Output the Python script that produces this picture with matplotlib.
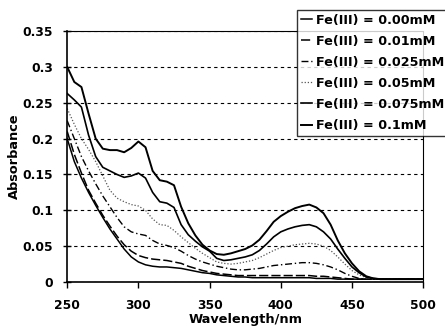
import numpy as np
import matplotlib
matplotlib.use("Agg")
import matplotlib.pyplot as plt

plt.rcParams['font.family'] = ['DejaVu Sans']
plt.rcParams['font.weight'] = 'bold'

# wavelength grid, 250..500 nm in 5 nm steps
wl = np.arange(250, 501, 5)

labels = ['Fe(III) = 0.00mM', 'Fe(III) = 0.01mM', 'Fe(III) = 0.025mM',
          'Fe(III) = 0.05mM', 'Fe(III) = 0.075mM', 'Fe(III) = 0.1mM']

fe_000 = [0.200, 0.168, 0.145, 0.125, 0.107, 0.090, 0.074, 0.060, 0.046, 0.035,
          0.028, 0.024, 0.022, 0.021, 0.021, 0.020, 0.019, 0.017, 0.015, 0.013,
          0.012, 0.010, 0.009, 0.008, 0.007, 0.007, 0.006, 0.006, 0.006, 0.006,
          0.006, 0.006, 0.006, 0.006, 0.006, 0.005, 0.005, 0.005, 0.004, 0.004,
          0.004, 0.004, 0.004, 0.004, 0.004, 0.004, 0.004, 0.004, 0.004, 0.004,
          0.004]
fe_001 = [0.210, 0.178, 0.152, 0.128, 0.110, 0.093, 0.078, 0.064, 0.052, 0.043,
          0.037, 0.034, 0.032, 0.031, 0.030, 0.028, 0.026, 0.022, 0.019, 0.016,
          0.014, 0.012, 0.011, 0.010, 0.009, 0.009, 0.009, 0.009, 0.009, 0.009,
          0.009, 0.009, 0.009, 0.009, 0.009, 0.008, 0.008, 0.007, 0.006, 0.005,
          0.004, 0.004, 0.004, 0.004, 0.004, 0.004, 0.004, 0.004, 0.004, 0.004,
          0.004]
fe_0025 = [0.225, 0.200, 0.175, 0.155, 0.137, 0.120, 0.105, 0.090, 0.077, 0.070,
           0.067, 0.065, 0.058, 0.053, 0.051, 0.048, 0.043, 0.037, 0.032, 0.028,
           0.025, 0.022, 0.020, 0.018, 0.017, 0.017, 0.018, 0.019, 0.021, 0.023,
           0.024, 0.025, 0.026, 0.027, 0.027, 0.026, 0.024, 0.021, 0.017, 0.012,
           0.008, 0.005, 0.004, 0.004, 0.004, 0.004, 0.004, 0.004, 0.004, 0.004,
           0.004]
fe_005 = [0.242, 0.220, 0.200, 0.185, 0.168, 0.148, 0.128, 0.117, 0.112, 0.108,
          0.106, 0.100, 0.088, 0.080, 0.079, 0.072, 0.063, 0.055, 0.047, 0.040,
          0.034, 0.028, 0.026, 0.025, 0.026, 0.028, 0.030, 0.034, 0.039, 0.044,
          0.048, 0.050, 0.052, 0.053, 0.054, 0.053, 0.050, 0.044, 0.035, 0.025,
          0.016, 0.010, 0.006, 0.004, 0.004, 0.004, 0.004, 0.004, 0.004, 0.004,
          0.004]
fe_0075 = [0.263, 0.254, 0.244, 0.205, 0.175, 0.160, 0.155, 0.150, 0.146, 0.148,
           0.152, 0.145, 0.125, 0.112, 0.110, 0.104, 0.080, 0.066, 0.057, 0.049,
           0.043, 0.033, 0.030, 0.031, 0.033, 0.035, 0.038, 0.044, 0.053, 0.063,
           0.070, 0.074, 0.077, 0.079, 0.080, 0.077, 0.070, 0.060, 0.046, 0.033,
           0.021, 0.013, 0.007, 0.005, 0.004, 0.004, 0.004, 0.004, 0.004, 0.004,
           0.004]
fe_01 = [0.300, 0.279, 0.272, 0.235, 0.200, 0.186, 0.184, 0.184, 0.181, 0.187,
         0.196, 0.188, 0.155, 0.142, 0.140, 0.135, 0.105, 0.082, 0.065, 0.052,
         0.044, 0.039, 0.038, 0.040, 0.043, 0.046, 0.051, 0.059, 0.071, 0.084,
         0.092, 0.098, 0.103, 0.106, 0.108, 0.104, 0.096, 0.080, 0.058, 0.040,
         0.026, 0.015, 0.008, 0.005, 0.004, 0.004, 0.004, 0.004, 0.004, 0.004,
         0.004]

series = [fe_000, fe_001, fe_0025, fe_005, fe_0075, fe_01]
styles = [dict(ls='-', lw=1.1, color='black'),
          dict(ls=(0, (6, 2)), lw=1.1, color='black'),
          dict(ls=(0, (5, 2, 1, 2)), lw=1.0, color='black'),
          dict(ls=(0, (1, 1.5)), lw=0.9, color='#555555'),
          dict(ls='-', lw=1.2, color='black'),
          dict(ls='-', lw=1.4, color='black')]

fig = plt.figure(figsize=(4.45, 3.31), dpi=100)
ax = fig.add_axes([0.151, 0.148, 0.800, 0.758])

for ys, lab, st in zip(series, labels, styles):
    ax.plot(wl, ys, label=lab, **st)

ax.set_xlim(250, 500)
ax.set_ylim(0, 0.35)
ax.set_xticks([250, 300, 350, 400, 450, 500])
ax.set_yticks(np.arange(0, 0.351, 0.05))
ax.yaxis.set_major_formatter(plt.FuncFormatter(
    lambda v, p: ('%.2f' % v).rstrip('0').rstrip('.') if v else '0'))

# dashed horizontal grid
ax.yaxis.grid(True, linestyle=(0, (3, 3)), color='black', lw=0.8)
ax.set_axisbelow(True)

ax.spines['top'].set_linestyle((0, (1, 1)))
ax.spines['right'].set_linestyle((0, (1, 1)))
ax.spines['top'].set_linewidth(0.8)
ax.spines['right'].set_linewidth(0.8)
ax.spines['left'].set_linewidth(1.2)
ax.spines['bottom'].set_linewidth(1.2)

ax.tick_params(axis='y', direction='inout', length=6, width=1, labelsize=8.8, pad=7)
ax.tick_params(axis='x', direction='out', length=4, width=1, labelsize=8.8, pad=8)
for t in ax.get_xticklabels() + ax.get_yticklabels():
    t.set_fontweight('bold')

ax.set_xlabel('Wavelength/nm', fontsize=9.3, fontweight='bold', labelpad=1)
ax.set_ylabel('Absorbance', fontsize=9.3, fontweight='bold', labelpad=1)

leg = fig.legend(loc='upper left', bbox_to_anchor=(0.667, 0.970),
                 prop={'size': 9.2, 'weight': 'bold'}, frameon=True, fancybox=False,
                 handlelength=0.9, handletextpad=0.3, labelspacing=0.63,
                 borderpad=0.3, borderaxespad=0)
leg.get_frame().set_edgecolor('black')
leg.get_frame().set_linewidth(1.0)

fig.savefig('out.png', dpi=100)
